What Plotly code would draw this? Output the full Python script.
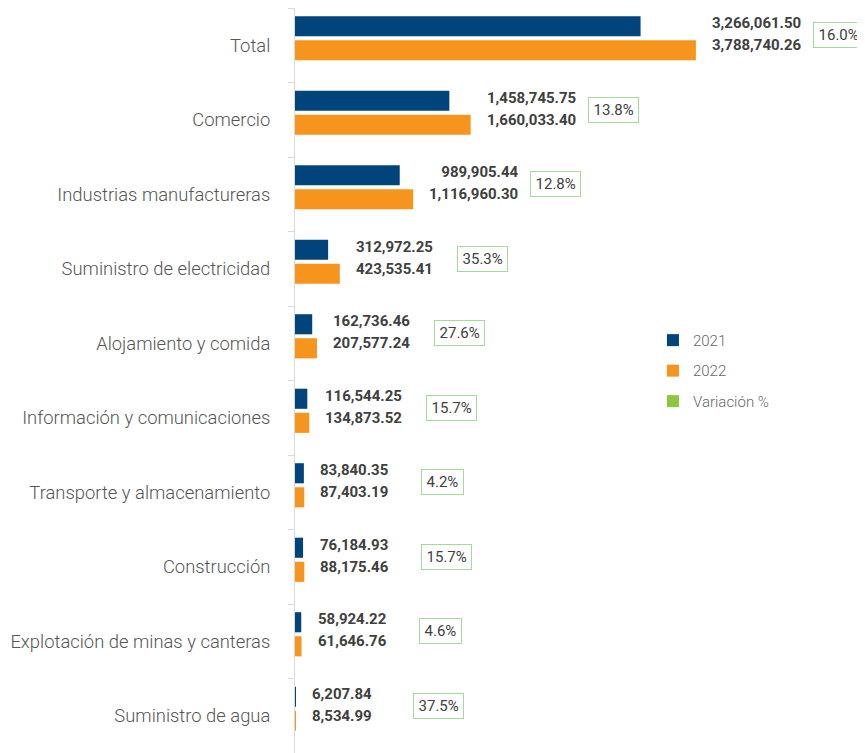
import plotly.graph_objects as go

categories = ["Total", "Comercio", "Industrias manufactureras", "Suministro de electricidad",
              "Alojamiento y comida", "Información y comunicaciones", "Transporte y almacenamiento",
              "Construcción", "Explotación de minas y canteras", "Suministro de agua"]
values_2021 = [3266061.50, 1458745.75, 989905.44, 312972.25, 162736.46, 116544.25,
               83840.35, 76184.93, 58924.22, 6207.84]
values_2022 = [3788740.26, 1660033.40, 1116960.30, 423535.41, 207577.24, 134873.52,
               87403.19, 88175.46, 61646.76, 8534.99]
variacion = [16.0, 13.8, 12.8, 35.3, 27.6, 15.7, 4.2, 15.7, 4.6, 37.5]

C2021 = "#00447C"
C2022 = "#F7941D"
CVAR = "#8DC63F"

fig = go.Figure()
fig.add_trace(go.Bar(y=categories, x=values_2021, orientation="h", name="2021",
                     marker=dict(color=C2021, line=dict(width=0)), offset=-0.39, width=0.27,
                     legendgroup="a", hoverinfo="skip"))
fig.add_trace(go.Bar(y=categories, x=values_2022, orientation="h", name="2022",
                     marker=dict(color=C2022, line=dict(width=0)), offset=-0.067, width=0.27,
                     legendgroup="b", hoverinfo="skip"))
fig.add_trace(go.Bar(y=[categories[0]], x=[None], orientation="h", name="Variación %",
                     marker=dict(color=CVAR, line=dict(width=0)),
                     legendgroup="c", hoverinfo="skip"))

annotations = []
for cat, a, b, p in zip(categories, values_2021, values_2022, variacion):
    annotations.append(dict(
        x=b, y=cat, xref="x", yref="y", xanchor="left", yanchor="middle",
        xshift=14, yshift=11, showarrow=False, align="right",
        text=(f"<span style='font-size:15px'><b>{a:,.2f}</b></span><br>"
              f"<span style='font-size:15px'><b>{b:,.2f}</b></span>"),
        font=dict(family="Roboto", size=17, color="#404040")))
    annotations.append(dict(
        x=b, y=cat, xref="x", yref="y", xanchor="left", yanchor="middle",
        xshift=117, yshift=10, showarrow=False,
        text=f"&#8202;{p:.1f}%&#8202;", bordercolor="#A6D99C", borderwidth=1, borderpad=3,
        bgcolor="white",
        font=dict(family="Roboto", size=15, color="#404040")))

fig.update_layout(
    width=857, height=745,
    margin=dict(l=287, r=0, t=0, b=0),
    paper_bgcolor="white", plot_bgcolor="white",
    barmode="overlay",
    showlegend=True,
    legend=dict(x=0.628, y=0.576, xanchor="left", yanchor="top",
                traceorder="grouped", tracegroupgap=8,
                font=dict(family="Roboto", size=15, color="#666666", weight=300),
                bgcolor="rgba(0,0,0,0)"),
    annotations=annotations,
    xaxis=dict(range=[0, 5.387e6], visible=False, showgrid=False, zeroline=False),
    yaxis=dict(autorange="reversed", showline=True, linecolor="#d9d9d9", linewidth=1,
               ticks="outside", tickson="boundaries", ticklen=6, tickcolor="#d9d9d9",
               showgrid=False, ticklabelstandoff=20, automargin=False,
               tickfont=dict(family="Roboto", size=18.4, color="#555555", weight=300)),
)

fig.write_html("out.html")
